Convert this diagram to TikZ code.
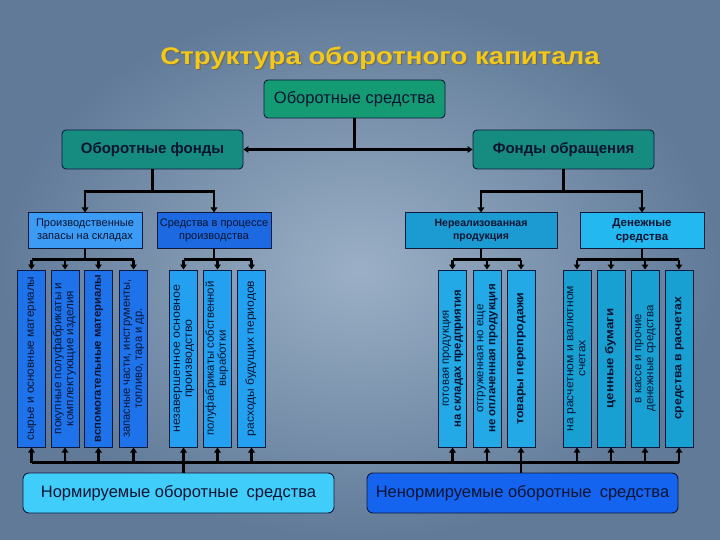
\documentclass[tikz,border=0pt]{standalone}
\usepackage{fontspec}
\setmainfont{Liberation Sans}
\usetikzlibrary{arrows.meta,calc}
\definecolor{bgin}{RGB}{155,176,198}
\definecolor{bgout}{RGB}{96,122,152}
\definecolor{titley}{RGB}{243,200,25}
\definecolor{titles}{RGB}{110,100,70}
\definecolor{osgreen}{RGB}{20,155,115}
\definecolor{fteal}{RGB}{22,140,128}
\definecolor{pzc}{RGB}{60,155,245}
\definecolor{spc}{RGB}{28,105,225}
\definecolor{npc}{RGB}{28,155,210}
\definecolor{dsc}{RGB}{35,185,240}
\definecolor{lc}{RGB}{30,115,235}
\definecolor{mc}{RGB}{35,160,240}
\definecolor{rc}{RGB}{35,170,230}
\definecolor{dc}{RGB}{25,160,210}
\definecolor{normc}{RGB}{65,205,250}
\definecolor{nenormc}{RGB}{20,100,240}
\definecolor{navyb}{RGB}{15,25,60}
\definecolor{navyt}{RGB}{10,20,50}
\newcommand{\vlines}[2]{\scalebox{#1}[1]{\begin{tabular}{@{}c@{}}#2\end{tabular}}}
\begin{document}
\begin{tikzpicture}[x=1pt,y=-1pt,
  conn/.style={line width=2.2pt, draw=black},
  arr/.style={conn, -{Triangle[length=5pt,width=6.5pt]}},
  topbox/.style={draw=navyb, line width=0.9pt, rounded corners=4pt, inner sep=0pt, text=navyt},
  lvlbox/.style={draw=navyb, line width=1pt, inner sep=0pt, text=navyt, align=center,
                 minimum height=35pt, font=\fontsize{11}{13}\selectfont},
  vbox/.style={draw=navyb, line width=1pt, inner sep=0pt, minimum width=28pt, minimum height=177pt},
  vtxt/.style={rotate=90, align=center, inner sep=0pt, text=navyt, font=\fontsize{11.5}{12}\selectfont},
  botbox/.style={draw=navyb, line width=0.9pt, rounded corners=6pt, inner sep=0pt, text=navyt,
                 minimum width=311pt, minimum height=40pt, font=\fontsize{16.5}{18}\selectfont},
]
\shade[inner color=bgin, outer color=bgout] (0,0) rectangle (720,540);
\useasboundingbox (0,0) rectangle (720,540);

% title
\node[text=titles, opacity=0.7, font=\bfseries\fontsize{24}{28}\selectfont] (titlesh) at (381.2,59.2) {\scalebox{1.15}[1]{Структура оборотного капитала}};
\node[text=titley, font=\bfseries\fontsize{24}{28}\selectfont] (title) at (380,58) {\scalebox{1.15}[1]{Структура оборотного капитала}};

% top level
\node[topbox, fill=osgreen, minimum width=181pt, minimum height=38pt, font=\fontsize{16.5}{18}\selectfont] (OS) at (354.5,99) {Оборотные средства};
\node[topbox, fill=fteal, minimum width=181pt, minimum height=39pt, font=\bfseries\fontsize{15}{18}\selectfont] (OF) at (152.5,149.5) {Оборотные фонды};
\node[topbox, fill=fteal, minimum width=181pt, minimum height=39pt, font=\bfseries\fontsize{15}{18}\selectfont] (FO) at (563.5,149.5) {Фонды обращения};

\draw[conn] (OS.south) -- (OS.south |- OF.east);
\draw[conn, {Triangle[length=5pt,width=6.5pt]}-{Triangle[length=5pt,width=6.5pt]}] (OF.east) -- (FO.west);

% level 2
\node[lvlbox, fill=pzc, minimum width=114pt] (PZ) at (85,230.5) {Производственные\\запасы на складах};
\node[lvlbox, fill=spc, minimum width=114pt] (SP) at (214,230.5) {Средства в процессе\\производства};
\node[lvlbox, fill=npc, minimum width=152pt, font=\bfseries\fontsize{10.5}{13}\selectfont] (NP) at (481,230.5) {Нереализованная\\продукция};
\node[lvlbox, fill=dsc, minimum width=124pt, font=\bfseries\fontsize{11.5}{14}\selectfont] (DS) at (642,230.5) {Денежные\\средства};

\coordinate (b1) at ($(OF.south)+(0,22)$);
\draw[conn] (OF.south) -- (b1);
\draw[arr] (b1) -| (PZ.north);
\draw[arr] (b1) -| (SP.north);
\coordinate (b2) at ($(FO.south)+(0,22)$);
\draw[conn] (FO.south) -- (b2);
\draw[arr] (b2) -| (NP.north);
\draw[arr] (b2) -| (DS.north);

% level 3 boxes
\foreach \n/\x in {L1/31.5,L2/65,L3/98.5,L4/133.5}
  \node[vbox, fill=lc] (\n) at (\x,358.5) {};
\foreach \n/\x in {M1/183.5,M2/217.5,M3/251.5}
  \node[vbox, fill=mc] (\n) at (\x,358.5) {};
\foreach \n/\x in {R1/452.5,R2/487,R3/521}
  \node[vbox, fill=rc] (\n) at (\x,358.5) {};
\foreach \n/\x in {D1/577,D2/611,D3/645,D4/679}
  \node[vbox, fill=dc] (\n) at (\x,358.5) {};

\node[vtxt] (L1t) at (L1) {\vlines{1.02}{сырье и основные материалы}};
\node[vtxt] (L2t) at (L2) {\vlines{1.02}{покупные полуфабрикаты и\\комплектующие изделия}};
\node[vtxt, font=\bfseries\fontsize{11}{12}\selectfont] (L3t) at (L3) {\vlines{1.03}{вспомогательные материалы}};
\node[vtxt] (L4t) at (L4) {\vlines{0.97}{запасные части, инструменты,\\топливо, тара и др.}};
\node[vtxt] (M1t) at (M1) {\vlines{1.08}{незавершенное основное\\производство}};
\node[vtxt] (M2t) at (M2) {\vlines{0.99}{полуфабрикаты собственной\\выработки}};
\node[vtxt] (M3t) at (M3) {\vlines{1.05}{расходы будущих периодов}};
\node[vtxt] (R1t) at (R1) {\vlines{0.98}{готовая продукция\\\textbf{на складах предприятия}}};
\node[vtxt] (R2t) at (R2) {\vlines{1.0}{отгруженная но еще\\\textbf{не оплаченная продукция}}};
\node[vtxt, font=\bfseries\fontsize{11.5}{12}\selectfont] (R3t) at (R3) {\vlines{1.08}{товары перепродажи}};
\node[vtxt] (D1t) at (D1) {\vlines{1.05}{на расчетном и валютном\\счетах}};
\node[vtxt, font=\bfseries\fontsize{11.5}{12}\selectfont] (D2t) at (D2) {\vlines{1.15}{ценные бумаги}};
\node[vtxt] (D3t) at (D3) {\vlines{1.0}{в кассе и прочие\\денежные средства}};
\node[vtxt, font=\bfseries\fontsize{11.5}{12}\selectfont] (D4t) at (D4) {\vlines{1.05}{средства в расчетах}};

% connectors level 2 -> 3
\coordinate (c1) at ($(PZ.south)+(0,11)$);
\draw[conn] (PZ.south) -- (c1);
\draw[conn] (c1 -| L1) -- (c1 -| L4);
\foreach \n in {L1,L2,L3,L4} \draw[arr] (c1 -| \n) -- (\n.north);
\coordinate (c2) at ($(SP.south)+(0,11)$);
\draw[conn] (SP.south) -- (c2);
\draw[conn] (c2 -| M1) -- (c2 -| M3);
\foreach \n in {M1,M2,M3} \draw[arr] (c2 -| \n) -- (\n.north);
\coordinate (c3) at ($(NP.south)+(0,11)$);
\draw[conn] (NP.south) -- (c3);
\draw[conn] (c3 -| R1) -- (c3 -| R3);
\foreach \n in {R1,R2,R3} \draw[arr] (c3 -| \n) -- (\n.north);
\coordinate (c4) at ($(DS.south)+(0,11)$);
\draw[conn] (DS.south) -- (c4);
\draw[conn] (c4 -| D1) -- (c4 -| D4);
\foreach \n in {D1,D2,D3,D4} \draw[arr] (c4 -| \n) -- (\n.north);

% bottom
\node[botbox, fill=normc] (NORM) at (178.5,493) {Нормируемые оборотные\hspace{0.5em}средства};
\node[botbox, fill=nenormc] (NENORM) at (522.5,493) {Ненормируемые оборотные\hspace{0.5em}средства};

\coordinate (bus) at ($(L1.south)+(0,15)$);
\draw[conn] (bus -| L1) -- (bus -| D4);
\foreach \n in {L1,L2,L3,L4,M1,M2,M3,R1,R2,R3,D1,D2,D3,D4}
  \draw[arr] (bus -| \n) -- (\n.south);
\draw[conn] (NORM.north -| M1) -- (bus -| M1);
\draw[conn] (NENORM.north -| R3) -- (bus -| R3);
\end{tikzpicture}
\end{document}
